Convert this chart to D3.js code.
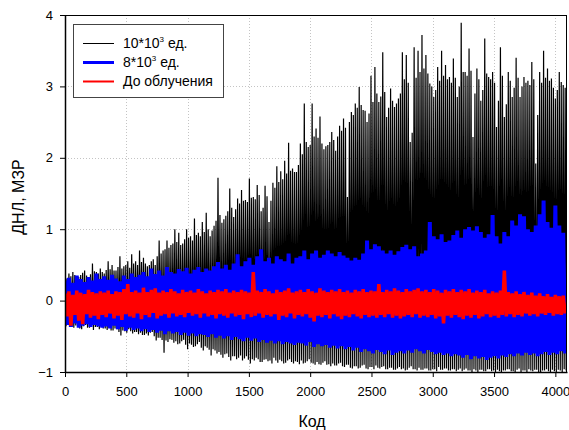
<!DOCTYPE html>
<html>
<head>
<meta charset="utf-8">
<script src="https://cdn.jsdelivr.net/npm/d3@7"></script>
<style>
  body { margin: 0; background: #fff; }
  svg { display: block; font-family: "Liberation Sans", Arial, sans-serif; }
</style>
</head>
<body>
<div id="chart"></div>
<script>
// Peaks. Each list holds one high and one low per
// step of 4096 / length codes (high at the step start, low half a step later).
const blackHi = [
  0.35,0.31,0.38,0.34,0.40,0.36,0.30,0.33,0.36,0.39,0.42,0.35,0.32,0.37,0.52,0.41,
  0.40,0.38,0.45,0.40,0.38,0.43,0.55,0.44,0.50,0.42,0.42,0.47,0.62,0.45,0.48,0.50,
  0.55,0.46,0.65,0.52,0.55,0.50,0.70,0.54,0.60,0.52,0.48,0.50,0.55,0.58,0.50,0.62,
  0.84,0.66,0.70,0.72,0.84,0.74,0.78,0.80,1.00,0.82,0.95,0.78,0.80,0.86,1.00,0.88,
  0.90,0.84,1.15,0.92,0.95,0.90,1.10,0.96,1.23,1.00,0.90,0.98,1.05,1.12,1.72,1.20,
  1.09,1.14,1.19,1.25,1.57,1.30,1.17,1.28,1.43,1.36,1.55,1.40,1.41,1.38,1.71,1.44,
  1.45,1.42,1.62,1.48,1.25,1.30,1.61,1.46,1.10,1.40,1.65,1.58,1.88,1.66,1.81,1.70,
  1.96,1.78,2.21,1.82,1.85,1.80,1.80,1.90,2.20,2.05,2.76,2.22,2.15,2.18,2.76,2.30,
  2.41,2.28,2.58,2.20,2.12,2.16,2.18,2.22,2.36,2.25,2.10,2.30,2.45,2.38,2.55,2.42,
  1.45,2.50,2.64,2.60,2.76,2.70,2.99,2.74,2.67,2.66,2.50,2.62,3.15,2.78,3.27,2.90,
  2.78,2.86,3.48,2.92,2.57,2.70,2.97,2.80,2.71,2.76,2.83,2.90,3.48,3.10,3.44,3.05,
  2.22,2.35,3.55,3.12,3.50,3.20,3.72,3.25,3.44,3.18,3.04,3.00,2.85,2.95,3.27,3.08,
  3.50,3.15,3.30,3.10,3.13,3.05,3.39,3.12,2.85,3.00,3.89,3.20,3.20,3.15,3.53,3.22,
  2.29,2.90,3.25,3.10,2.80,2.95,3.67,3.18,3.13,3.10,3.20,3.05,2.43,2.80,3.55,3.15,
  2.57,2.75,3.20,3.08,2.85,2.98,3.40,3.12,2.85,3.00,3.13,3.05,3.08,3.02,3.34,3.10,
  1.92,2.60,3.20,3.05,3.50,3.12,3.25,3.08,3.11,2.98,2.83,2.95,3.20,3.06,3.02,2.98
];
const blackLo = [
  -0.36,-0.34,-0.33,-0.37,-0.38,-0.35,-0.35,-0.39,-0.40,-0.36,-0.34,-0.38,-0.38,-0.36,-0.41,-0.37,
  -0.37,-0.40,-0.36,-0.39,-0.39,-0.41,-0.38,-0.42,-0.42,-0.39,-0.40,-0.44,-0.49,-0.42,-0.43,-0.45,
  -0.40,-0.43,-0.46,-0.44,-0.44,-0.47,-0.45,-0.48,-0.48,-0.46,-0.49,-0.45,-0.44,-0.50,-0.56,-0.52,
  -0.52,-0.55,-0.73,-0.56,-0.58,-0.54,-0.55,-0.59,-0.57,-0.61,-0.60,-0.57,-0.55,-0.62,-0.68,-0.60,
  -0.62,-0.65,-0.64,-0.61,-0.58,-0.66,-0.70,-0.64,-0.66,-0.69,-0.77,-0.68,-0.70,-0.74,-0.72,-0.76,
  -0.80,-0.75,-0.74,-0.79,-0.84,-0.78,-0.78,-0.82,-0.80,-0.77,-0.84,-0.81,-0.78,-0.83,-0.88,-0.82,
  -0.84,-0.80,-0.82,-0.86,-0.86,-0.83,-0.82,-0.85,-0.84,-0.88,-0.80,-0.84,-0.87,-0.83,-0.85,-0.88,
  -0.87,-0.84,-0.82,-0.86,-0.88,-0.85,-0.86,-0.89,-0.84,-0.88,-0.87,-0.85,-0.82,-0.87,-0.88,-0.90,
  -0.86,-0.89,-0.90,-0.87,-0.85,-0.90,-0.89,-0.92,-0.88,-0.91,-0.91,-0.88,-0.87,-0.92,-0.93,-0.90,
  -0.90,-0.94,-0.95,-0.92,-0.92,-0.95,-0.94,-0.91,-0.90,-0.95,-0.96,-0.93,-0.93,-0.96,-0.91,-0.94,
  -0.95,-0.93,-0.92,-0.96,-0.96,-0.94,-0.94,-0.97,-0.97,-0.95,-0.93,-0.96,-0.95,-0.98,-0.97,-0.94,
  -0.92,-0.96,-0.96,-0.98,-0.94,-0.97,-0.97,-0.95,-0.95,-0.98,-0.98,-0.96,-0.96,-0.99,-0.93,-0.97,
  -0.97,-0.95,-0.95,-0.98,-0.98,-0.96,-0.96,-0.99,-0.97,-0.95,-0.99,-0.97,-0.95,-0.98,-0.98,-1.00,
  -0.96,-0.98,-1.00,-0.97,-0.97,-0.99,-0.99,-0.96,-0.96,-0.99,-0.98,-1.00,-0.97,-0.99,-1.00,-0.98,
  -0.98,-0.96,-0.96,-0.99,-0.99,-1.00,-0.97,-0.95,-1.00,-0.98,-0.98,-1.00,-0.96,-0.98,-0.99,-0.97,
  -0.97,-1.00,-1.00,-0.98,-0.98,-0.96,-0.99,-1.00,-0.97,-0.99,-1.00,-0.97,-0.98,-1.00,-0.96,-0.98
];
const blueHi = [
  0.28,0.32,0.25,0.35,0.30,0.26,0.33,0.28,0.38,0.30,
  0.34,0.29,0.36,0.31,0.27,0.35,0.30,0.38,0.33,0.36,
  0.40,0.34,0.45,0.37,0.42,0.35,0.47,0.40,0.38,0.44,
  0.41,0.46,0.38,0.43,0.47,0.40,0.45,0.42,0.48,0.54,
  0.45,0.50,0.43,0.52,0.65,0.48,0.55,0.60,0.50,0.62,
  0.72,0.55,0.60,0.52,0.62,0.58,0.55,0.66,0.52,0.60,
  0.62,0.70,0.58,0.66,0.70,0.60,0.64,0.70,0.66,0.62,
  0.68,0.63,0.60,0.56,0.60,0.57,0.66,0.84,0.72,0.79,
  0.76,0.70,0.66,0.70,0.64,0.69,0.75,0.78,0.72,0.76,
  0.62,0.66,0.70,1.10,0.90,0.86,0.93,0.82,0.84,0.92,
  0.98,0.88,1.00,1.03,0.98,1.04,0.96,0.88,0.93,1.20,
  0.90,0.80,0.96,0.90,1.12,1.05,1.21,1.18,1.00,0.96,
  1.05,1.21,1.40,1.10,1.02,1.33,1.05,0.95
];
const blueLo = [
  -0.34,-0.37,-0.32,-0.38,-0.35,-0.33,-0.37,-0.34,-0.36,-0.38,
  -0.36,-0.39,-0.35,-0.40,-0.37,-0.42,-0.38,-0.41,-0.39,-0.43,
  -0.40,-0.44,-0.41,-0.45,-0.42,-0.47,-0.43,-0.46,-0.44,-0.48,
  -0.45,-0.49,-0.46,-0.50,-0.47,-0.48,-0.51,-0.47,-0.52,-0.49,
  -0.53,-0.50,-0.55,-0.51,-0.54,-0.57,-0.52,-0.56,-0.53,-0.58,
  -0.55,-0.59,-0.56,-0.60,-0.57,-0.61,-0.58,-0.60,-0.62,-0.59,
  -0.60,-0.63,-0.58,-0.65,-0.61,-0.64,-0.62,-0.66,-0.63,-0.67,
  -0.64,-0.68,-0.65,-0.70,-0.66,-0.72,-0.68,-0.71,-0.74,-0.69,
  -0.72,-0.75,-0.70,-0.76,-0.73,-0.71,-0.74,-0.70,-0.73,-0.68,
  -0.71,-0.74,-0.69,-0.72,-0.75,-0.73,-0.76,-0.74,-0.78,-0.75,
  -0.77,-0.80,-0.76,-0.82,-0.78,-0.81,-0.79,-0.83,-0.80,-0.78,
  -0.81,-0.77,-0.79,-0.75,-0.78,-0.74,-0.77,-0.73,-0.76,-0.74,
  -0.78,-0.75,-0.72,-0.76,-0.73,-0.75,-0.71,-0.74
];
const redHi = [
  0.10,0.13,0.08,0.14,0.11,0.09,0.15,0.12,0.10,0.13,
  0.11,0.14,0.09,0.13,0.12,0.16,0.23,0.12,0.14,0.11,
  0.18,0.12,0.15,0.17,0.11,0.14,0.12,0.16,0.13,0.10,
  0.15,0.12,0.14,0.11,0.16,0.13,0.10,0.14,0.12,0.15,
  0.13,0.16,0.11,0.14,0.12,0.15,0.13,0.11,0.40,0.14,
  0.12,0.16,0.13,0.10,0.15,0.12,0.14,0.17,0.11,0.13,
  0.15,0.12,0.16,0.13,0.11,0.17,0.14,0.12,0.15,0.13,
  0.16,0.12,0.14,0.11,0.15,0.13,0.16,0.12,0.14,0.13,
  0.23,0.12,0.15,0.13,0.17,0.14,0.12,0.16,0.13,0.15,
  0.17,0.13,0.15,0.12,0.16,0.14,0.11,0.15,0.13,0.16,
  0.12,0.15,0.13,0.16,0.11,0.14,0.12,0.15,0.10,0.13,
  0.11,0.14,0.42,0.12,0.10,0.13,0.09,0.12,0.08,0.11,
  0.07,0.10,0.06,0.09,0.05,0.08,0.06,0.07
];
const redLo = [
  -0.22,-0.35,-0.20,-0.28,-0.33,-0.19,-0.24,-0.21,-0.26,-0.20,
  -0.23,-0.18,-0.25,-0.21,-0.27,-0.19,-0.22,-0.24,-0.18,-0.26,
  -0.20,-0.23,-0.17,-0.25,-0.21,-0.19,-0.24,-0.18,-0.22,-0.20,
  -0.23,-0.17,-0.21,-0.19,-0.24,-0.18,-0.22,-0.20,-0.25,-0.19,
  -0.21,-0.24,-0.18,-0.22,-0.20,-0.26,-0.19,-0.23,-0.21,-0.18,
  -0.24,-0.20,-0.22,-0.19,-0.27,-0.21,-0.23,-0.18,-0.25,-0.20,
  -0.22,-0.19,-0.24,-0.29,-0.21,-0.23,-0.20,-0.25,-0.19,-0.22,
  -0.26,-0.21,-0.23,-0.19,-0.22,-0.25,-0.20,-0.23,-0.21,-0.24,
  -0.20,-0.23,-0.19,-0.24,-0.21,-0.25,-0.22,-0.20,-0.23,-0.19,
  -0.24,-0.21,-0.23,-0.20,-0.25,-0.22,-0.32,-0.21,-0.24,-0.20,
  -0.23,-0.26,-0.21,-0.24,-0.20,-0.25,-0.22,-0.19,-0.23,-0.21,
  -0.24,-0.20,-0.22,-0.19,-0.23,-0.20,-0.22,-0.18,-0.21,-0.19,
  -0.22,-0.18,-0.20,-0.17,-0.21,-0.19,-0.20,-0.18
];

const xTicks = [0, 500, 1000, 1500, 2000, 2500, 3000, 3500, 4000];
const yTicks = [-1, 0, 1, 2, 3, 4];

const series = [
  { name: "10*10", sup: "3", tail: " ед.", hi: blackHi, lo: blackLo, color: "#000", width: 1.2, legendWidth: 1 },
  { name: "8*10", sup: "3", tail: " ед.", hi: blueHi, lo: blueLo, color: "#0000ff", width: 4, legendWidth: 3 },
  { name: "До облучения", sup: null, tail: "", hi: redHi, lo: redLo, color: "#ff0000", width: 3.5, legendWidth: 2 }
];

// turn the peak lists into a zigzag of points
function toPoints(s) {
  const step = 4096 / s.hi.length;
  const pts = [];
  s.hi.forEach((h, i) => {
    pts.push({ code: i * step, value: h });
    pts.push({ code: i * step + step / 2, value: s.lo[i] });
  });
  return pts;
}

const width = 569;
const height = 430;
const marginLeft = 65;
const marginRight = 2;
const marginTop = 15;
const marginBottom = 58;

const x = d3.scaleLinear()
    .domain([0, 4095])
    .range([marginLeft, width - marginRight]);

const y = d3.scaleLinear()
    .domain([-1, 4])
    .range([height - marginBottom, marginTop]);

const svg = d3.select("#chart")
  .append("svg")
    .attr("width", width)
    .attr("height", height)
    .attr("viewBox", [0, 0, width, height]);

svg.append("defs").append("clipPath")
    .attr("id", "plot-clip")
  .append("rect")
    .attr("x", marginLeft)
    .attr("y", marginTop)
    .attr("width", width - marginRight - marginLeft)
    .attr("height", height - marginBottom - marginTop);

// dotted grid
const grid = svg.append("g")
    .attr("stroke", "#c4c4c4")
    .attr("stroke-width", 1)
    .attr("stroke-dasharray", "1,2");

grid.selectAll(".vg")
  .data(xTicks.filter(d => d > 0))
  .join("line")
    .attr("x1", d => Math.round(x(d)) + 0.5)
    .attr("x2", d => Math.round(x(d)) + 0.5)
    .attr("y1", marginTop)
    .attr("y2", height - marginBottom);

grid.selectAll(".hg")
  .data(yTicks.filter(d => d > -1 && d < 4))
  .join("line")
    .attr("x1", marginLeft)
    .attr("x2", width - marginRight)
    .attr("y1", d => Math.round(y(d)) + 0.5)
    .attr("y2", d => Math.round(y(d)) + 0.5);

const line = d3.line()
    .x(d => x(d.code))
    .y(d => y(d.value));

const plot = svg.append("g").attr("clip-path", "url(#plot-clip)");

plot.selectAll("path")
  .data(series)
  .join("path")
    .attr("fill", "none")
    .attr("stroke", d => d.color)
    .attr("stroke-width", d => d.width)
    .attr("d", d => line(toPoints(d)));

// frame
svg.append("rect")
    .attr("x", marginLeft + 0.5)
    .attr("y", marginTop + 0.5)
    .attr("width", width - marginRight - marginLeft - 1)
    .attr("height", height - marginBottom - marginTop)
    .attr("fill", "none")
    .attr("stroke", "#000")
    .attr("stroke-width", 1);

// axes
svg.append("g")
    .attr("transform", `translate(0,${height - marginBottom})`)
    .call(d3.axisBottom(x).tickValues(xTicks).tickFormat(d3.format("d"))
        .tickSize(5).tickPadding(10).tickSizeOuter(0))
    .call(g => g.select(".domain").attr("stroke-width", 1.5))
    .call(g => g.selectAll("text").attr("font-size", 13).attr("fill", "#000"));

svg.append("g")
    .attr("transform", `translate(${marginLeft},0)`)
    .call(d3.axisLeft(y).tickValues(yTicks).tickFormat(d3.format("d"))
        .tickSize(5).tickPadding(7).tickSizeOuter(0))
    .call(g => g.select(".domain").attr("stroke-width", 1.5))
    .call(g => g.selectAll("text").attr("font-size", 13).attr("fill", "#000"));

svg.append("text")
    .attr("x", 312)
    .attr("y", 427)
    .attr("text-anchor", "middle")
    .attr("font-size", 16)
    .text("Код");

svg.append("text")
    .attr("transform", `translate(24,197) rotate(-90)`)
    .attr("text-anchor", "middle")
    .attr("font-size", 16)
    .text("ДНЛ, МЗР");

// legend
const legend = svg.append("g");
legend.append("rect")
    .attr("x", 73.5)
    .attr("y", 24.5)
    .attr("width", 150)
    .attr("height", 73)
    .attr("fill", "#fff")
    .attr("stroke", "#444");

const rows = legend.selectAll(".row")
  .data(series)
  .join("g")
    .attr("transform", (d, i) => `translate(0,${43 + i * 19})`);

rows.append("line")
    .attr("x1", 83)
    .attr("x2", 114)
    .attr("y1", 0.5)
    .attr("y2", 0.5)
    .attr("stroke", d => d.color)
    .attr("stroke-width", d => d.legendWidth);

const label = rows.append("text")
    .attr("x", 123)
    .attr("y", 5)
    .attr("font-size", 14);
label.append("tspan").text(d => d.name);
label.filter(d => d.sup).append("tspan")
    .attr("dy", -6)
    .attr("font-size", 8)
    .text(d => d.sup);
label.filter(d => d.sup).append("tspan")
    .attr("dy", 6)
    .text(d => d.tail);
</script>
</body>
</html>
